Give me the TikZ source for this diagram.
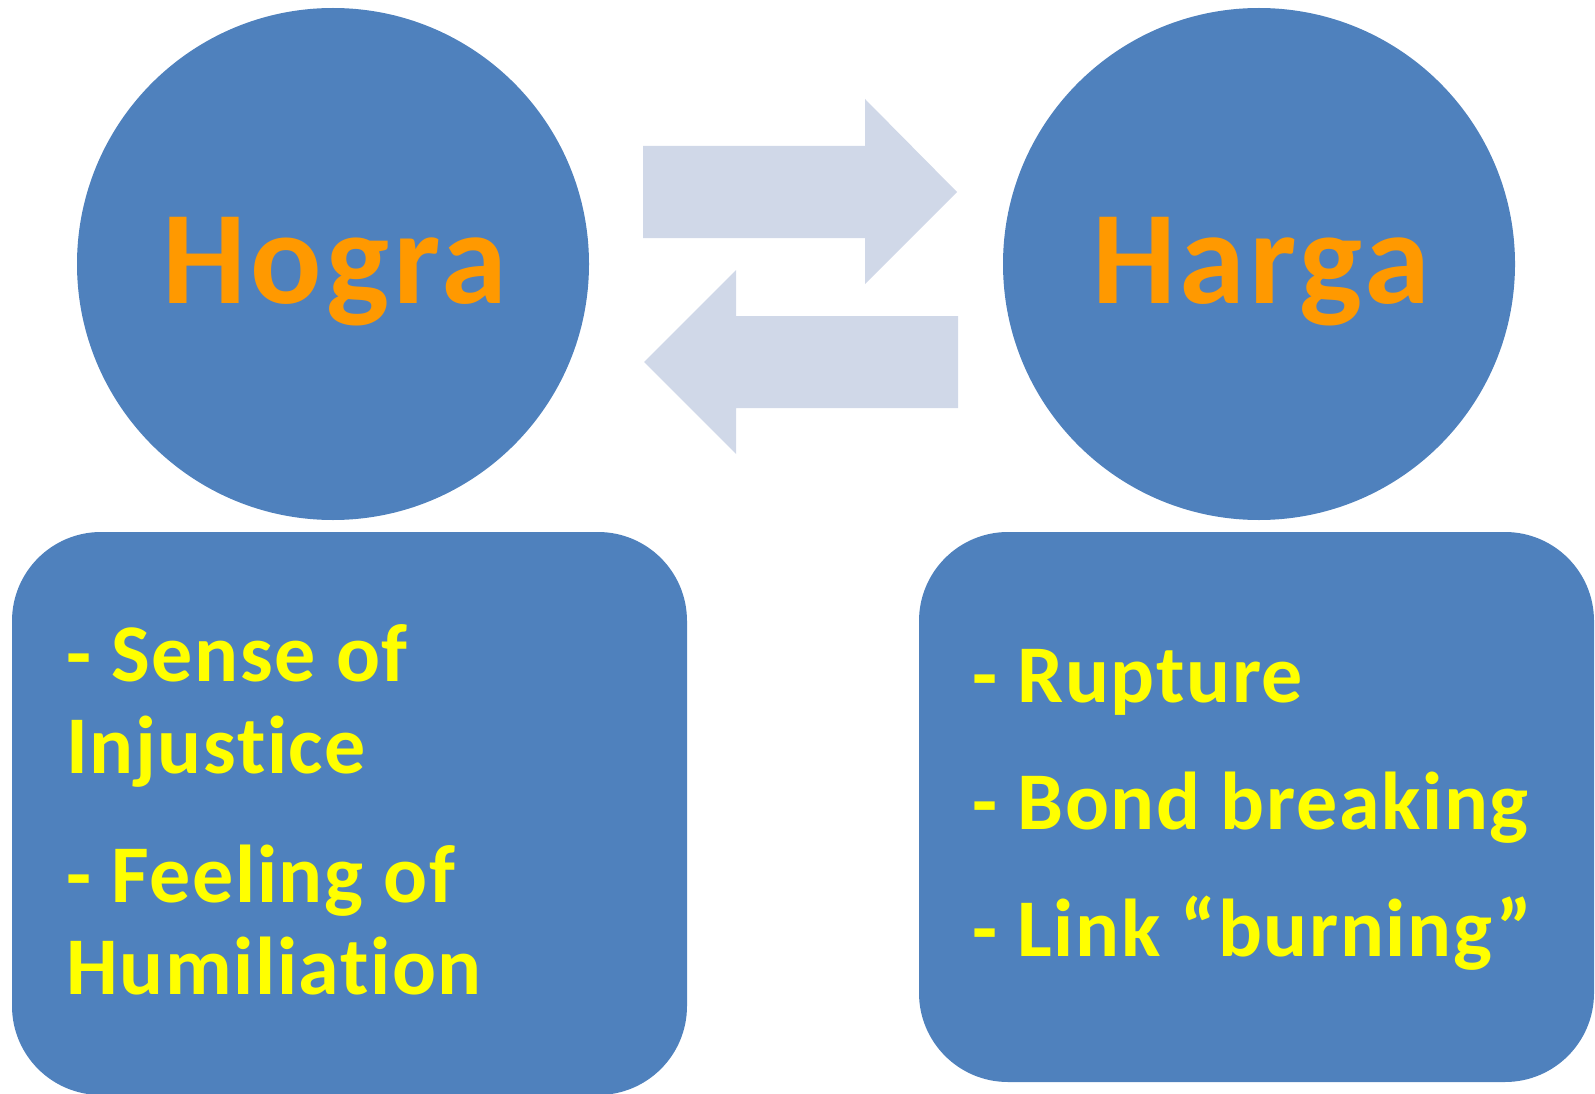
\documentclass[tikz,border=0pt]{standalone}
\usepackage{fontspec}
\setmainfont{Carlito}[Ligatures=NoCommon]
\definecolor{cblue}{HTML}{4F81BD}
\definecolor{carrow}{HTML}{D0D8E8}
\definecolor{corange}{HTML}{FF9900}
\definecolor{cyellow}{HTML}{FFFF00}
\begin{document}
\begin{tikzpicture}[x=1pt,y=-1pt,
  bubble/.style={circle,fill=cblue,draw=none,minimum size=512pt,inner sep=0pt},
  panel/.style={rectangle,rounded corners=89pt,fill=cblue,draw=none,inner sep=0pt},
  swap/.style={fill=carrow,draw=none},
  title/.style={font=\fontsize{133}{133}\selectfont\bfseries\addfontfeature{LetterSpace=3},text=corange,inner sep=0pt,anchor=base},
  item/.style={font=\fontsize{82}{82}\selectfont\bfseries\addfontfeature{LetterSpace=2},text=cyellow,inner sep=0pt,anchor=base west}]
\useasboundingbox (0,0) rectangle (1595,1094);
\begin{scope}
\clip (0,0) rectangle (1595,1094);
% circles
\node[bubble] (lc) at (333,264) {};
\node[bubble] (rc) at (1259,264) {};
% panels
\node[panel,minimum width=675pt,minimum height=563pt] (lb) at (349.5,813.5) {};
\node[panel,minimum width=675pt,minimum height=550pt] (rb) at (1256.5,807) {};
\end{scope}
% arrows
\path[swap] (643,146) -- (865,146) -- (865,99) -- (957,192) -- (865,284) -- (865,238) -- (643,238) -- cycle;
\path[swap] (958,316) -- (736,316) -- (736,270) -- (644,362) -- (736,454) -- (736,408) -- (958,408) -- cycle;
% titles
\node[title] (t1) at (335,303) {Hogra};
\node[title] (t2) at (1261,303) {Harga};
% left items
\node[item] (l1) at (66,681) {- Sense of};
\node[item] (l2) at (66,773) {Injustice};
\node[item] (l3) at (66,902) {- Feeling of};
\node[item] (l4) at (66,994) {Humiliation};
% right items
\node[item] (r1) at (972,702) {- Rupture};
\node[item] (r2) at (972,829) {- Bond breaking};
\node[item] (r3) at (972,956) {- Link “burning”};
\end{tikzpicture}
\end{document}
